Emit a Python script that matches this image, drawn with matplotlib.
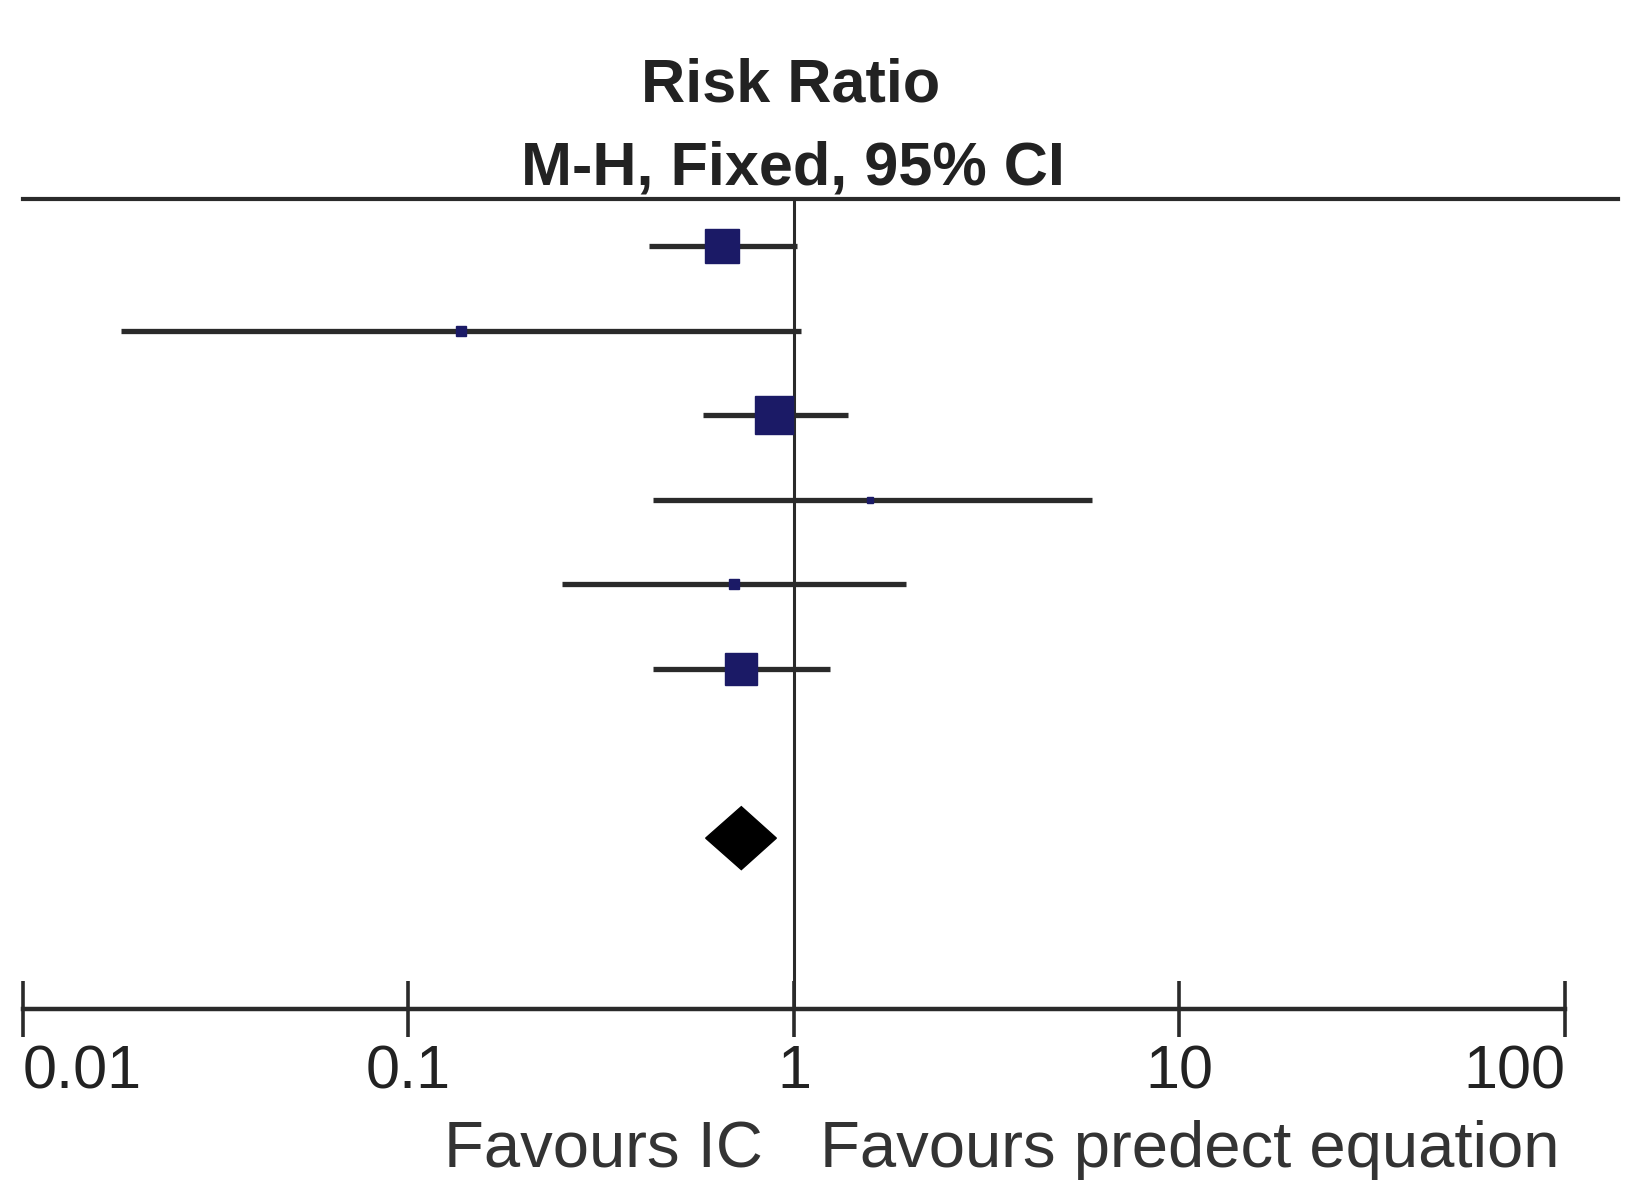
import matplotlib
matplotlib.use("Agg")
import matplotlib.pyplot as plt
from matplotlib.lines import Line2D
from matplotlib.patches import Polygon
import numpy as np

# ---- data ----
study_rr = [0.65, 0.137, 0.89, 1.57, 0.70, 0.73]
study_lo = [0.42, 0.018, 0.58, 0.43, 0.25, 0.43]
study_hi = [1.02, 1.04, 1.38, 5.92, 1.95, 1.24]
study_weight = [30, 3, 39, 1, 3, 26]          # % weight (marker area)
pooled_rr, pooled_lo, pooled_hi = 0.73, 0.59, 0.90
tick_values = [0.01, 0.1, 1, 10, 100]
tick_labels = ["0.01", "0.1", "1", "10", "100"]
title_lines = ["Risk Ratio", "M-H, Fixed, 95% CI"]
left_label = "Favours IC"
right_label = "Favours predect equation"

plt.rcParams['font.family'] = ['Liberation Sans', 'DejaVu Sans']

W, H = 1639, 1182
fig = plt.figure(figsize=(W / 100, H / 100), dpi=100)
fig.patch.set_facecolor("white")

# axes frame: x 23..1565 px, y 199..1009 px
ax = fig.add_axes([23 / W, 1 - 1009 / H, (1565 - 23) / W, (1009 - 199) / H])
ax.set_xscale("log")
ax.set_xlim(0.01, 100)
row_pos = np.arange(len(study_rr))
pooled_row = len(study_rr) + 1
ax.set_ylim(9.02, -0.556)

line_col = "#2a2a2a"
sq_col = "#1b1a66"

# study CIs and squares
for y, rr, lo, hi, w in zip(row_pos, study_rr, study_lo, study_hi, study_weight):
    ax.plot([lo, hi], [y, y], color=line_col, lw=3.8, solid_capstyle="butt", zorder=2)
    ms = 6.2 * np.sqrt(w) * 0.72
    ax.plot([rr], [y], marker="s", ms=max(ms, 4), color=sq_col, mec=sq_col, zorder=3)

# pooled diamond
h = 0.372
diamond = Polygon([[pooled_lo, pooled_row], [pooled_rr, pooled_row - h],
                   [pooled_hi, pooled_row], [pooled_rr, pooled_row + h]],
                  closed=True, facecolor="black", edgecolor="black", zorder=3)
ax.add_patch(diamond)

# line of no effect
ax.axvline(1, color=line_col, lw=2.2, zorder=1)

# spines / axis
for s in ["top", "right", "left"]:
    ax.spines[s].set_visible(False)
ax.spines["bottom"].set_linewidth(3.2)
ax.spines["bottom"].set_color(line_col)
ax.set_yticks([])
ax.set_xticks(tick_values)
ax.set_xticklabels(tick_labels)
ax.xaxis.set_minor_locator(matplotlib.ticker.NullLocator())
ax.tick_params(axis="x", direction="inout", length=41, width=2.6, color=line_col,
               labelsize=44, pad=5, labelcolor="#222222")
labels = ax.get_xticklabels()
labels[0].set_ha("left")
labels[-1].set_ha("right")
ax.set_facecolor("none")

# top rule (extends past the axis)
fig.add_artist(Line2D([23 / W, 1618 / W], [1 - 199 / H, 1 - 199 / H],
                      color=line_col, lw=3.0))

# header text
fig.text(791 / W, 1 - 86 / H, title_lines[0], ha="center", va="center",
         fontsize=44, fontweight="bold", color="#222222")
fig.text(793 / W, 1 - 169 / H, title_lines[1], ha="center", va="center",
         fontsize=44, fontweight="bold", color="#222222")

# favours labels
fig.text(763 / W, 1 - 1150 / H, left_label, ha="right", va="center",
         fontsize=47, color="#333333")
fig.text(820 / W, 1 - 1150 / H, right_label, ha="left", va="center",
         fontsize=47, color="#333333")

fig.savefig("out.png", dpi=100, facecolor="white")
